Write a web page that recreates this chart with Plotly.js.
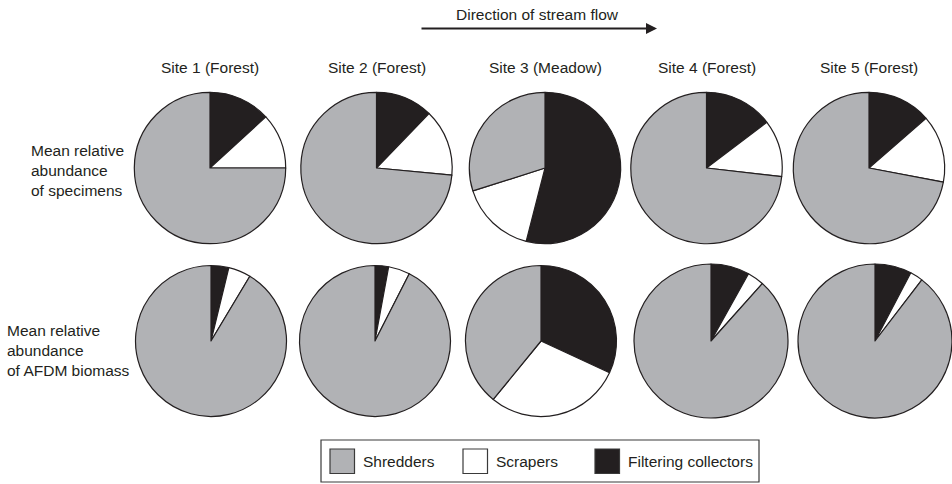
<!DOCTYPE html>
<html>
<head>
<meta charset="utf-8">
<script src="https://cdn.plot.ly/plotly-3.0.1.min.js"></script>
<style>html,body{margin:0;padding:0;background:#fff;}#chart{width:952px;height:484px;}</style>
</head>
<body>
<div id="chart"></div>
<script>
// ---- data ----
const sites = ['Site 1 (Forest)', 'Site 2 (Forest)', 'Site 3 (Meadow)', 'Site 4 (Forest)', 'Site 5 (Forest)'];
const categories = ['Shredders', 'Scrapers', 'Filtering collectors'];
const rowLabels = ['Mean relative<br>abundance<br>of specimens', 'Mean relative<br>abundance<br>of AFDM biomass'];
// values per site, in category order: Shredders, Scrapers, Filtering collectors (%)
const specimens = [
  [75.0, 11.8, 13.2],
  [73.5, 14.3, 12.2],
  [29.9, 16.1, 54.0],
  [73.2, 12.1, 14.7],
  [72.0, 14.4, 13.6]
];
const biomass = [
  [91.4, 4.8, 3.8],
  [92.5, 4.6, 2.9],
  [39.1, 29.0, 31.9],
  [88.4, 3.5, 8.1],
  [89.6, 2.7, 7.7]
];
const flowLabel = 'Direction of stream flow';

// ---- layout (pixel geometry) ----
const W = 952, H = 484;
const colors = ['#B1B2B5', '#FFFFFF', '#231F20'];
const FONT = 'Liberation Sans, Arial, Helvetica, sans-serif';
const topRow = {cx: [210, 376.5, 545, 706.5, 869], cy: 168, r: 75.7};
const botRow = {cx: [211, 375, 541, 711, 875], cy: 341, r: [75.5, 75.5, 75.5, 77, 77]};

function dom(cx, cy, r) {
  return {x: [(cx - r) / W, (cx + r) / W], y: [1 - (cy + r) / H, 1 - (cy - r) / H]};
}
const px = x => x / W;
const py = y => 1 - y / H;
const rev = a => a.slice().reverse();

const traces = [];
function pie(vals, d) {
  // slices drawn clockwise from 12 o'clock: Filtering collectors, Scrapers, Shredders
  return {
    type: 'pie', labels: rev(categories), values: rev(vals), sort: false,
    direction: 'clockwise', rotation: 0, textinfo: 'none', hoverinfo: 'label+value',
    marker: {colors: rev(colors), line: {color: '#231F20', width: 1.2}},
    domain: d, showlegend: false
  };
}
sites.forEach((s, i) => {
  traces.push(pie(specimens[i], dom(topRow.cx[i], topRow.cy, topRow.r)));
  traces.push(pie(biomass[i], dom(botRow.cx[i], botRow.cy, botRow.r[i])));
});

const txtFont = {family: FONT, size: 15.5, color: '#231F20'};
const annotations = [];
sites.forEach((s, i) => {
  annotations.push({text: s, xref: 'paper', yref: 'paper', x: px(topRow.cx[i]), y: py(68),
    xanchor: 'center', yanchor: 'middle', showarrow: false, font: txtFont});
});
annotations.push({text: rowLabels[0], xref: 'paper', yref: 'paper', x: px(29), y: py(170),
  xanchor: 'left', yanchor: 'middle', align: 'left', showarrow: false, font: txtFont});
annotations.push({text: rowLabels[1], xref: 'paper', yref: 'paper', x: px(5), y: py(350),
  xanchor: 'left', yanchor: 'middle', align: 'left', showarrow: false, font: txtFont});
annotations.push({text: flowLabel, xref: 'paper', yref: 'paper', x: px(537), y: py(15),
  xanchor: 'center', yanchor: 'middle', showarrow: false, font: txtFont});
// arrow
annotations.push({text: '', xref: 'paper', yref: 'paper', x: px(657), y: py(28.5),
  ax: -237, ay: 0, showarrow: true, arrowhead: 2, arrowsize: 1, arrowwidth: 2.2, arrowcolor: '#231F20'});

// custom legend
const shapes = [{type: 'rect', xref: 'paper', yref: 'paper', x0: px(321), x1: px(759), y0: py(482), y1: py(440),
  line: {color: '#3a3a3a', width: 1.2}, fillcolor: 'rgba(0,0,0,0)'}];
const legX = [330, 463, 595];
categories.forEach((c, i) => {
  shapes.push({type: 'rect', xref: 'paper', yref: 'paper', x0: px(legX[i]), x1: px(legX[i] + 24.5),
    y0: py(473.5), y1: py(449), fillcolor: colors[i], line: {color: '#3a3a3a', width: 1.2}});
  annotations.push({text: c, xref: 'paper', yref: 'paper', x: px(legX[i] + 31), y: py(461.5),
    xanchor: 'left', yanchor: 'middle', showarrow: false, font: txtFont});
});

const layout = {
  width: W, height: H, margin: {l: 0, r: 0, t: 0, b: 0},
  paper_bgcolor: '#ffffff', plot_bgcolor: '#ffffff',
  showlegend: false, annotations: annotations, shapes: shapes,
  font: {family: FONT}
};
Plotly.newPlot('chart', traces, layout, {displayModeBar: false, staticPlot: true});
</script>
</body>
</html>
